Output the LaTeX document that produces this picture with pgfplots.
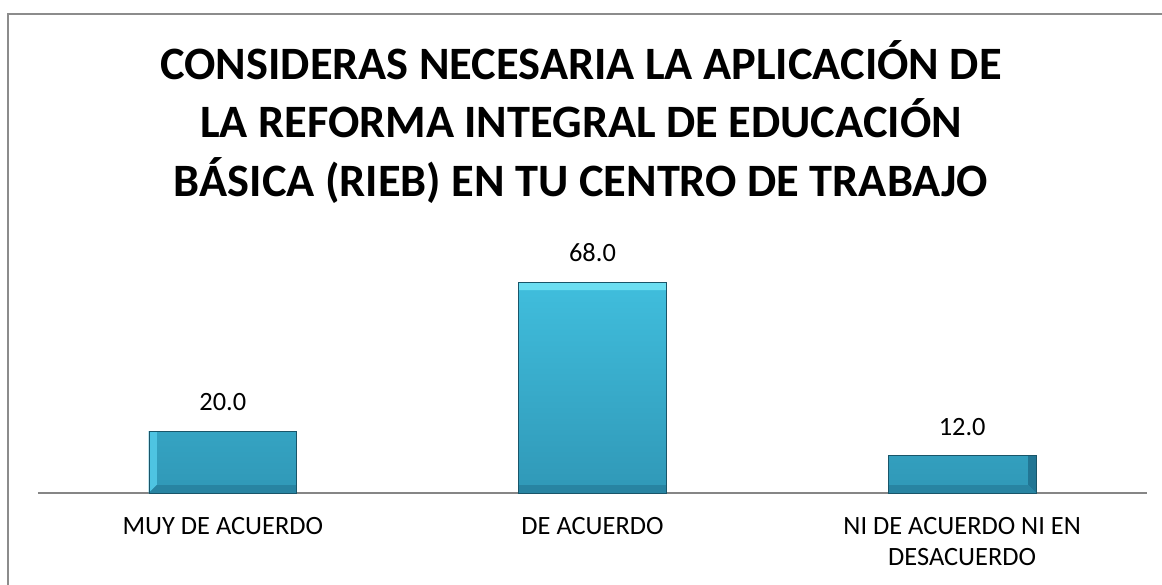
\documentclass[border=0pt]{standalone}
\usepackage{pgfplots}
\pgfplotsset{compat=1.18}
\usepackage{fontspec}
\setmainfont{Carlito}
\definecolor{barhi}{RGB}{64,190,221}
\definecolor{barlo}{RGB}{48,152,183}
\definecolor{bartop}{RGB}{108,222,241}
\definecolor{barleft}{RGB}{78,196,226}
\definecolor{barright}{RGB}{34,118,148}
\definecolor{barbot}{RGB}{40,132,162}
\definecolor{baredge}{RGB}{25,85,105}
\definecolor{framegray}{RGB}{140,140,140}
\definecolor{axgray}{RGB}{134,134,134}
\tikzset{bevel/.style={
  path picture={
    \def\bb{path picture bounding box}
    \shade[top color=barhi, bottom color=barlo, path picture={}, draw=none] (\bb.south west) rectangle (\bb.north east);
    \fill[bartop, path picture={}, draw=none] (\bb.north west) -- (\bb.north east) -- ([xshift=-#1,yshift=-#1]\bb.north east) -- ([xshift=#1,yshift=-#1]\bb.north west) -- cycle;
    \fill[barleft, path picture={}, draw=none] (\bb.north west) -- ([xshift=#1,yshift=-#1]\bb.north west) -- ([xshift=#1,yshift=#1]\bb.south west) -- (\bb.south west) -- cycle;
    \fill[barright, path picture={}, draw=none] (\bb.north east) -- ([xshift=-#1,yshift=-#1]\bb.north east) -- ([xshift=-#1,yshift=#1]\bb.south east) -- (\bb.south east) -- cycle;
    \fill[barbot, path picture={}, draw=none] (\bb.south west) -- ([xshift=#1,yshift=#1]\bb.south west) -- ([xshift=-#1,yshift=#1]\bb.south east) -- (\bb.south east) -- cycle;
  }}}
\begin{document}
\begin{tikzpicture}
\useasboundingbox (0,0) rectangle (581pt,292pt);
\draw[framegray, line width=0.8pt] (4pt,-5pt) -- (4pt,285pt) -- (590pt,285pt);
\begin{scope}[font=\fontsize{23.2}{28}\selectfont\bfseries]
\node[anchor=base] at (290.5pt,252pt) {CONSIDERAS NECESARIA LA APLICACIÓN DE};
\node[anchor=base] at (290.5pt,223pt) {LA REFORMA INTEGRAL DE EDUCACIÓN};
\node[anchor=base] at (290.5pt,193.5pt) {BÁSICA (RIEB) EN TU CENTRO DE TRABAJO};
\end{scope}
\begin{axis}[
  at={(19pt,45.5pt)}, anchor=south west,
  scale only axis,
  width=554.5pt, height=130pt,
  xmin=-0.5, xmax=2.5, ymin=0, ymax=83.87,
  axis x line=bottom, axis y line=none,
  x axis line style={axgray, line width=0.8pt, -},
  xtick=data,
  xticklabels={MUY DE ACUERDO, DE ACUERDO, {NI DE ACUERDO NI EN\\DESACUERDO}},
  xtick style={draw=none},
  xticklabel style={align=center, font=\fontsize{13.2}{15.5}\selectfont, text depth=0pt, yshift=-6.5pt},
  ytick=\empty,
  clip=false,
]
\addplot[ybar, bar width=0.4, draw=baredge, line width=0.4pt,
  fill=barhi, bevel=4pt]
  coordinates {(0,20) (1,68) (2,12)};
\addplot[draw=none, mark=none,
  nodes near coords={\pgfmathprintnumber[fixed,fixed zerofill,precision=1,assume math mode=true]{\pgfplotspointmeta}},
  every node near coord/.append style={font=\fontsize{13.2}{15.5}\selectfont, black, yshift=6.5pt}]
  coordinates {(0,20) (1,68) (2,12)};
\end{axis}
\end{tikzpicture}
\end{document}
